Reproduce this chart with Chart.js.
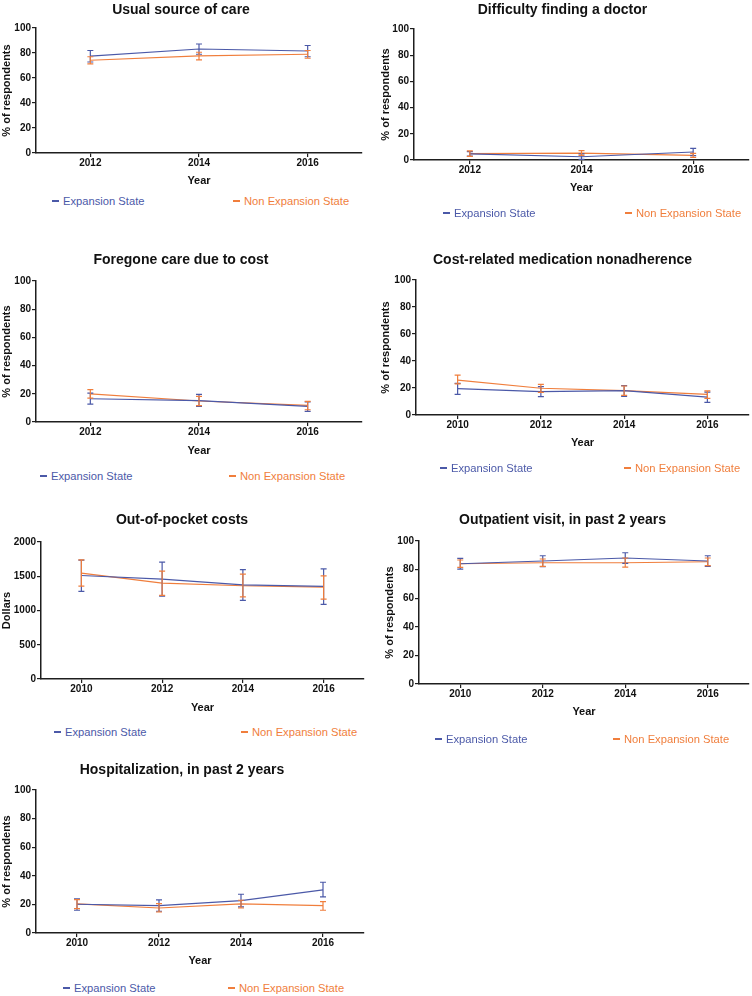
<!DOCTYPE html>
<html>
<head>
<meta charset="utf-8">
<script src="https://cdn.jsdelivr.net/npm/chart.js@4/dist/chart.umd.min.js"></script>
<style>
  html, body { margin: 0; padding: 0; background: #fff; overflow: hidden; }
  body { position: relative; width: 752px; height: 996px; font-family: 'Liberation Sans', Arial, sans-serif; }
  canvas { position: absolute; }
  .leg { position: absolute; font-size: 11.2px; line-height: 14px; white-space: nowrap; }
  .leg i { display: inline-block; width: 7px; height: 1.5px; vertical-align: middle; margin-right: 4px; position: relative; top: -1px; }
</style>
</head>
<body>
<script>
const blue = '#4b59a8'
const orange = '#f07e3c'

// Usual source of care
const usualYears = [2012, 2014, 2016]
const usualExp = [77.5, 83.2, 81.6]
const usualExpLo = [72.8, 79.0, 77.0]
const usualExpHi = [82.0, 87.2, 86.0]
const usualNon = [74.2, 77.7, 79.0]
const usualNonLo = [71.3, 74.5, 75.8]
const usualNonHi = [77.0, 80.6, 82.0]

// Difficulty finding a doctor
const doctorYears = [2012, 2014, 2016]
const doctorExp = [4.6, 2.5, 6.1]
const doctorExpLo = [3.0, 0.5, 3.3]
const doctorExpHi = [6.4, 4.6, 8.9]
const doctorNon = [4.8, 5.3, 3.6]
const doctorNonLo = [2.8, 3.6, 2.0]
const doctorNonHi = [6.9, 7.1, 5.1]

// Foregone care due to cost
const foregoneYears = [2012, 2014, 2016]
const foregoneExp = [16.5, 15.1, 11.1]
const foregoneExpLo = [12.7, 11.1, 7.5]
const foregoneExpHi = [20.5, 19.6, 14.2]
const foregoneNon = [20.0, 14.9, 11.8]
const foregoneNonLo = [17.0, 11.6, 8.7]
const foregoneNonHi = [22.9, 18.2, 14.6]

// Cost-related medication nonadherence
const medYears = [2010, 2012, 2014, 2016]
const medExp = [19.5, 17.3, 18.0, 13.3]
const medExpLo = [15.3, 13.6, 13.8, 9.4]
const medExpHi = [23.5, 21.0, 21.7, 17.0]
const medNon = [25.9, 19.8, 18.0, 15.3]
const medNonLo = [23.0, 16.8, 14.6, 12.3]
const medNonHi = [29.6, 22.7, 21.5, 17.8]

// Out-of-pocket costs
const oopYears = [2010, 2012, 2014, 2016]
const oopExp = [1511, 1458, 1375, 1351]
const oopExpLo = [1278, 1211, 1148, 1090]
const oopExpHi = [1734, 1705, 1598, 1608]
const oopNon = [1545, 1400, 1361, 1341]
const oopNonLo = [1356, 1220, 1200, 1167]
const oopNonHi = [1738, 1574, 1530, 1506]

// Outpatient visit, in past 2 years
const outYears = [2010, 2012, 2014, 2016]
const outExp = [84.1, 86.0, 88.1, 86.0]
const outExpLo = [80.4, 82.0, 84.4, 82.3]
const outExpHi = [87.9, 89.7, 91.8, 89.7]
const outNon = [84.1, 84.8, 84.8, 85.5]
const outNonLo = [81.6, 82.3, 81.8, 82.8]
const outNonHi = [86.7, 87.4, 88.1, 88.1]

// Hospitalization, in past 2 years
const hospYears = [2010, 2012, 2014, 2016]
const hospExp = [20.1, 19.2, 22.7, 30.1]
const hospExpLo = [15.9, 15.2, 18.2, 25.2]
const hospExpHi = [23.8, 23.1, 27.1, 35.5]
const hospNon = [20.3, 17.5, 20.3, 19.2]
const hospNonLo = [17.0, 14.7, 17.5, 15.9]
const hospNonHi = [23.4, 20.6, 22.9, 22.0]

const panels = [
    { title: 'Usual source of care', yTitle: '% of respondents', years: usualYears, xMin: 2011, yMax: 100, yStep: 20,
      exp: [usualExp, usualExpLo, usualExpHi], non: [usualNon, usualNonLo, usualNonHi],
      left: 0, plotL: 36, plotR: 362, plotT: 28, plotB: 153, titleY: 8.5, yearY: 181, yPad: 0, leg: [52, 233, 201] },
    { title: 'Difficulty finding a doctor', yTitle: '% of respondents', years: doctorYears, xMin: 2011, yMax: 100, yStep: 20,
      exp: [doctorExp, doctorExpLo, doctorExpHi], non: [doctorNon, doctorNonLo, doctorNonHi],
      left: 376, plotL: 414, plotR: 749, plotT: 29, plotB: 160, titleY: 8.5, yearY: 188, yPad: 3.4, leg: [443, 625, 213] },
    { title: 'Foregone care due to cost', yTitle: '% of respondents', years: foregoneYears, xMin: 2011, yMax: 100, yStep: 20,
      exp: [foregoneExp, foregoneExpLo, foregoneExpHi], non: [foregoneNon, foregoneNonLo, foregoneNonHi],
      left: 0, plotL: 36, plotR: 362, plotT: 281, plotB: 422, titleY: 259, yearY: 451, yPad: 0, leg: [40, 229, 476] },
    { title: 'Cost-related medication nonadherence', yTitle: '% of respondents', years: medYears, xMin: 2009, yMax: 100, yStep: 20,
      exp: [medExp, medExpLo, medExpHi], non: [medNon, medNonLo, medNonHi],
      left: 376, plotL: 416, plotR: 749, plotT: 280, plotB: 415, titleY: 259, yearY: 443, yPad: 3.4, leg: [440, 624, 468] },
    { title: 'Out-of-pocket costs', yTitle: 'Dollars', years: oopYears, xMin: 2009, yMax: 2000, yStep: 500,
      exp: [oopExp, oopExpLo, oopExpHi], non: [oopNon, oopNonLo, oopNonHi],
      left: 0, plotL: 41, plotR: 364, plotT: 542, plotB: 679, titleY: 519, yearY: 708, yPad: 0.4, leg: [54, 241, 732] },
    { title: 'Outpatient visit, in past 2 years', yTitle: '% of respondents', years: outYears, xMin: 2009, yMax: 100, yStep: 20,
      exp: [outExp, outExpLo, outExpHi], non: [outNon, outNonLo, outNonHi],
      left: 376, plotL: 419, plotR: 749, plotT: 541, plotB: 684, titleY: 519, yearY: 712, yPad: 7.4, leg: [435, 613, 739] },
    { title: 'Hospitalization, in past 2 years', yTitle: '% of respondents', years: hospYears, xMin: 2009, yMax: 100, yStep: 20,
      exp: [hospExp, hospExpLo, hospExpHi], non: [hospNon, hospNonLo, hospNonHi],
      left: 0, plotL: 36, plotR: 364, plotT: 790, plotB: 933, titleY: 769, yearY: 961, yPad: 0, leg: [63, 228, 988] }
]

// draws the vertical error bars with small caps
const errorBars = {
    id: 'errorBars',
    afterDatasetsDraw(chart) {
        const ctx = chart.ctx
        const xs = chart.scales.x, ys = chart.scales.y
        chart.data.datasets.forEach((ds) => {
            ctx.save()
            ctx.strokeStyle = ds.borderColor
            ctx.lineWidth = 1.2
            ds.data.forEach((pt, i) => {
                const x = xs.getPixelForValue(pt.x)
                const yLo = ys.getPixelForValue(ds.lo[i])
                const yHi = ys.getPixelForValue(ds.hi[i])
                ctx.beginPath()
                ctx.moveTo(x, yLo); ctx.lineTo(x, yHi)
                ctx.moveTo(x - 3, yLo); ctx.lineTo(x + 3, yLo)
                ctx.moveTo(x - 3, yHi); ctx.lineTo(x + 3, yHi)
                ctx.stroke()
            })
            ctx.restore()
        })
    }
}

const font = "'Liberation Sans', Arial, sans-serif"
const axisColor = '#1e1e1e'

function series(label, color, vals, years) {
    return {
        label: label,
        data: years.map((y, i) => ({ x: y, y: vals[0][i] })),
        lo: vals[1],
        hi: vals[2],
        borderColor: color,
        backgroundColor: color,
        borderWidth: 1.2,
        pointRadius: 0,
        tension: 0
    }
}

function addLegend(x, y, color, text) {
    const d = document.createElement('div')
    d.className = 'leg'
    d.style.left = x + 'px'
    d.style.top = (y - 7) + 'px'
    d.style.color = color
    d.innerHTML = `<i style="background:${color}"></i>${text}`
    document.body.appendChild(d)
}

function makePanel(p) {
    // title line box is 16.8px high; nudge down so the glyphs sit where the reference has them
    const top = Math.round(p.titleY - 6.9)
    const width = Math.round(2 * ((p.plotL + p.plotR) / 2 - p.left))
    const height = Math.round(p.yearY + 6.6 - top)
    const canvas = document.createElement('canvas')
    canvas.width = width
    canvas.height = height
    canvas.style.left = p.left + 'px'
    canvas.style.top = top + 'px'
    document.body.appendChild(canvas)

    new Chart(canvas.getContext('2d'), {
        type: 'line',
        data: {
            datasets: [
                series('Expansion State', blue, p.exp, p.years),
                series('Non Expansion State', orange, p.non, p.years)
            ]
        },
        options: {
            responsive: false,
            devicePixelRatio: 1,
            animation: false,
            layout: { padding: { left: 0, top: 0, bottom: 0, right: p.left + width - p.plotR } },
            plugins: {
                legend: { display: false },
                tooltip: { enabled: false },
                title: {
                    display: true,
                    text: p.title,
                    color: '#111',
                    font: { family: font, size: 14, weight: 'bold', lineHeight: 1.2 },
                    padding: { top: 0, bottom: p.plotT - top - 16.8 }
                }
            },
            scales: {
                x: {
                    type: 'linear',
                    min: p.xMin,
                    max: 2017,
                    afterBuildTicks: (s) => { s.ticks = p.years.map((v) => ({ value: v })) },
                    afterFit: (s) => { s.height = top + height - p.plotB },
                    ticks: {
                        autoSkip: false,
                        padding: 0,
                        color: '#111',
                        font: { family: font, size: 10, weight: 'bold' },
                        callback: (v) => String(v)
                    },
                    grid: { drawOnChartArea: false, drawTicks: true, tickLength: 4, color: axisColor, lineWidth: 1.2 },
                    border: { color: axisColor, width: 1.5 },
                    title: {
                        display: true, text: 'Year', color: '#111',
                        font: { family: font, size: 11, weight: 'bold', lineHeight: 1.2 },
                        padding: { top: 0, bottom: 0 }
                    }
                },
                y: {
                    min: 0,
                    max: p.yMax,
                    afterFit: (s) => { s.width = p.plotL - p.left },
                    ticks: {
                        stepSize: p.yStep,
                        padding: 1,
                        color: '#111',
                        font: { family: font, size: 10, weight: 'bold' },
                        callback: (v) => String(v)
                    },
                    grid: { drawOnChartArea: false, drawTicks: true, tickLength: 4, color: axisColor, lineWidth: 1.2 },
                    border: { color: axisColor, width: 1.5 },
                    title: {
                        display: true, text: p.yTitle, color: '#111',
                        font: { family: font, size: 11, weight: 'bold', lineHeight: 1.2 },
                        padding: { top: p.yPad, bottom: 0 }
                    }
                }
            }
        },
        plugins: [errorBars]
    })

    addLegend(p.leg[0], p.leg[2], blue, 'Expansion State')
    addLegend(p.leg[1], p.leg[2], orange, 'Non Expansion State')
}

window.onload = function () {
    panels.forEach(makePanel)
}
</script>
</body>
</html>
